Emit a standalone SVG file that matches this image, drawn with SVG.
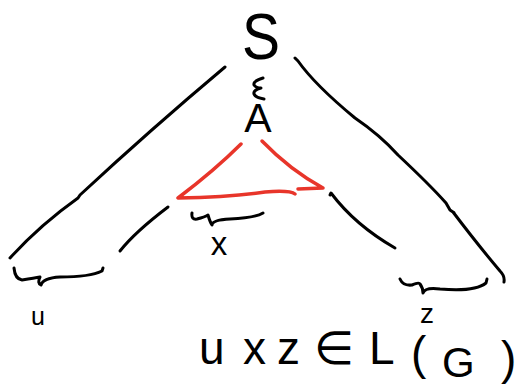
<svg xmlns="http://www.w3.org/2000/svg" width="523" height="386" viewBox="0 0 523 386">
<style>
.ink{fill:none;stroke:#000;stroke-width:3;stroke-linecap:round;stroke-linejoin:round}
.red{fill:none;stroke:#e8352a;stroke-width:3.5;stroke-linecap:round;stroke-linejoin:round}
.t{font-family:"Liberation Sans",Arial,sans-serif;fill:#000}
</style>
<rect width="523" height="386" fill="#fff"/>
<g id="node-S"><text class="t" x="261" y="59" font-size="64" text-anchor="middle" textLength="38" lengthAdjust="spacingAndGlyphs">S</text></g>
<g id="node-deriv"><path class="ink" d="M263 78 Q253 81 254 85 Q256 88 261 88 Q253 90 254 94 Q256 98 264 99"/></g>
<g id="node-A"><text class="t" x="258" y="132" font-size="41" text-anchor="middle">A</text></g>
<g id="node-triangle">
<path class="red" d="M241 144 Q215 170 178 198 Q230 197 265 192 Q290 190 295 194"/>
<path class="red" d="M298 189 L323 188 Q290 170 262 141"/>
</g>
<g id="connectors">
<path class="ink" d="M225 67 Q150 130 80 195 L78 198 Q40 225 10 258"/>
<path class="ink" d="M168 207 Q135 232 120 251"/>
<path class="ink" d="M295 58 L298 61 Q315 85 355 118 Q380 135 398 155 Q430 185 446 203 L450 210 Q456 214 453 212 Q478 245 500 271 Q505 276 504 282"/>
<path class="ink" d="M330 195 L331 193 Q355 225 395 248"/>
</g>
<g id="brace-u"><path class="ink" d="M14 268 Q15 279 22 280 Q35 278 40 277 Q37 283 41 285 Q43 278 60 277 Q90 277 102 271 L103 268"/></g>
<g id="brace-x"><path class="ink" d="M192 213 Q191 220 197 219 Q205 217 208 215 Q210 222 212 225 Q212 220 230 219 Q255 218 263 213"/></g>
<g id="brace-z"><path class="ink" d="M400 279 Q403 286 412 285 Q419 282 420 284 Q423 288 423 293 Q425 287 440 289 Q475 292 486 283 L487 279"/></g>
<g id="label-u"><text class="t" x="38" y="325" font-size="25" text-anchor="middle">u</text></g>
<g id="label-x"><text class="t" x="219" y="255" font-size="33" text-anchor="middle">x</text></g>
<g id="label-z"><text class="t" x="427" y="323" font-size="28" text-anchor="middle">z</text></g>
<g id="formula"><text class="t" font-size="46" y="364"><tspan x="199">u</tspan><tspan x="243">x</tspan><tspan x="277">z</tspan><tspan x="314">∈</tspan><tspan x="369">L</tspan><tspan x="411" y="369">(</tspan><tspan x="442" y="377" font-size="42">G</tspan><tspan x="501" y="374">)</tspan></text></g>
</svg>
